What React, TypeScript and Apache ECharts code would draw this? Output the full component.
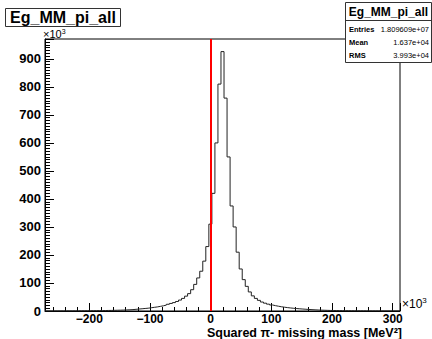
import React, { useEffect, useRef } from "react";
import * as echarts from "echarts";

// ---- data (x in units of 10^3 MeV^2, counts in units of 10^3) ----
const TITLE = "Eg_MM_pi_all";
const BIN_START = -273;
const BIN_WIDTH = 5;
const COUNTS = [
  0.25, 0.3, 0.3, 0.35, 0.4, 0.4, 0.45, 0.5, 0.55, 0.6, 0.7, 0.75, 0.8, 0.9, 1.0,
  1.1, 1.2, 1.35, 1.5, 1.7, 1.9, 2.1, 2.4, 2.7, 3.0, 3.4, 3.9, 4.4,
  5, 6, 7, 8, 9, 10, 11.5, 13, 14.5, 16.5, 18.5, 21, 24,
  27, 30, 34, 39, 45, 53, 62, 76, 95, 118, 142, 178, 230, 310, 420, 600, 810,
  926,
  760, 550, 375, 300, 210, 150, 112, 88, 68, 54, 45, 38, 32, 28, 24.5, 21.5,
  19, 17, 15, 13.5, 12, 10.8, 9.7, 8.7, 7.8, 7, 6.2, 5.5, 4.8, 4.2, 3.6, 3.1, 2.7, 2.3, 2.0, 1.8,
  1.6, 1.4, 1.25, 1.1, 1.0, 0.9, 0.8, 0.7, 0.65, 0.6, 0.55, 0.5, 0.45, 0.4, 0.4, 0.35, 0.3, 0.3, 0.25, 0.25, 0.2, 0.2,
];
const X_MIN = -273;
const X_MAX = 312;
const Y_MAX = 971;
const X_TICKS = [-200, -100, 0, 100, 200, 300];
const Y_TICKS = [0, 100, 200, 300, 400, 500, 600, 700, 800, 900];
const CUT_VALUES = [0];
const STATS_LABELS = ["Entries", "Mean", "RMS"];
const STATS_VALUES = ["1.809609e+07", "1.637e+04", "3.993e+04"];
const X_TITLE = "Squared \u03c0- missing mass [MeV\u00b2]";

const FONT = "'Liberation Sans', Arial, Helvetica, sans-serif";

export default function App() {
  const ref = useRef<HTMLDivElement>(null);

  useEffect(() => {
    if (!ref.current) return;
    const chart = echarts.init(ref.current, undefined, { renderer: "svg" });

    const histData: number[][] = COUNTS.map((v, i) => [BIN_START + i * BIN_WIDTH, v]);
    histData.push([BIN_START + COUNTS.length * BIN_WIDTH, COUNTS[COUNTS.length - 1]]);

    const statsRowsY = [29, 42, 55];

    const option: any = {
      animation: false,
      backgroundColor: "#ffffff",
      grid: {
        left: 45,
        right: 32,
        top: 39,
        bottom: 28,
        show: true,
        borderColor: "#000",
        borderWidth: 1,
        backgroundColor: "transparent",
      },
      xAxis: [
        {
          type: "value",
          min: X_MIN,
          max: X_MAX,
          splitNumber: 6,
          position: "bottom",
          axisLine: { show: true, onZero: false, lineStyle: { color: "#000", width: 1 } },
          axisTick: { show: true, inside: true, length: 8, lineStyle: { color: "#000" } },
          axisLabel: {
            show: true,
            margin: 2,
            color: "#000",
            fontSize: 12,
            fontWeight: "bold",
            fontFamily: FONT,
            formatter: (v: number) =>
              X_TICKS.includes(Math.round(v)) && Math.abs(v - Math.round(v)) < 1e-6
                ? String(Math.round(v)).replace("-", "\u2212")
                : "",
          },
          splitLine: { show: false },
        },
        {
          type: "value",
          min: X_MIN,
          max: X_MAX,
          splitNumber: 29,
          position: "bottom",
          axisLine: { show: false, onZero: false },
          axisTick: { show: true, inside: true, length: 4, lineStyle: { color: "#000" } },
          axisLabel: { show: false },
          splitLine: { show: false },
        },
      ],
      yAxis: [
        {
          type: "value",
          min: 0,
          max: Y_MAX,
          interval: 100,
          position: "left",
          axisLine: { show: true, onZero: false, lineStyle: { color: "#000", width: 1 } },
          axisTick: { show: true, inside: true, length: 9, lineStyle: { color: "#000" } },
          axisLabel: {
            show: true,
            margin: 4,
            color: "#000",
            fontSize: 13,
            fontWeight: "bold",
            fontFamily: FONT,
            formatter: (v: number) => (Y_TICKS.includes(v) ? String(v) : ""),
          },
          splitLine: { show: false },
        },
        {
          type: "value",
          min: 0,
          max: Y_MAX,
          interval: 10,
          position: "left",
          axisLine: { show: false, onZero: false },
          axisTick: { show: true, inside: true, length: 5, lineStyle: { color: "#000" } },
          axisLabel: { show: false },
          splitLine: { show: false },
        },
      ],
      series: [
        {
          type: "line",
          step: "end",
          xAxisIndex: 0,
          yAxisIndex: 0,
          data: histData,
          symbol: "none",
          showSymbol: false,
          lineStyle: { color: "#222", width: 1 },
          markLine: {
            silent: true,
            symbol: ["none", "none"],
            label: { show: false },
            lineStyle: { color: "#ff0000", width: 2, type: "solid" },
            data: CUT_VALUES.map((x) => ({ xAxis: x })),
          },
        },
      ],
      graphic: [
        // title box
        {
          type: "rect",
          z: 100,
          shape: { x: 5.5, y: 8.5, width: 115, height: 18 },
          style: { fill: "#fff", stroke: "#333", lineWidth: 1 },
        },
        {
          type: "text",
          z: 101,
          x: 63,
          y: 17.5,
          style: {
            text: TITLE,
            fill: "#000",
            font: `bold 16px ${FONT}`,
            textAlign: "center",
            textVerticalAlign: "middle",
          },
        },
        // y exponent
        {
          type: "text",
          z: 101,
          x: 43,
          y: 34,
          style: {
            text: "\u00d710{s|3}",
            fill: "#000",
            font: `11px ${FONT}`,
            textVerticalAlign: "middle",
            rich: { s: { fontSize: 7, fontFamily: FONT, padding: [0, 0, 6, 0] } },
          },
        },
        // x exponent
        {
          type: "text",
          z: 101,
          x: 402,
          y: 304,
          style: {
            text: "\u00d710{s|3}",
            fill: "#000",
            font: `12px ${FONT}`,
            textVerticalAlign: "middle",
            rich: { s: { fontSize: 8, fontFamily: FONT, padding: [0, 0, 7, 0] } },
          },
        },
        // x axis title
        {
          type: "text",
          z: 101,
          x: 402,
          y: 333,
          style: {
            text: X_TITLE,
            fill: "#000",
            font: `bold 12.5px ${FONT}`,
            textAlign: "right",
            textVerticalAlign: "middle",
          },
        },
        // stats box
        {
          type: "rect",
          z: 100,
          shape: { x: 345.5, y: 2.5, width: 86, height: 60 },
          style: { fill: "#fff", stroke: "#333", lineWidth: 1 },
        },
        {
          type: "line",
          z: 101,
          shape: { x1: 345.5, y1: 20.5, x2: 431.5, y2: 20.5 },
          style: { stroke: "#333", lineWidth: 1 },
        },
        {
          type: "text",
          z: 101,
          x: 388.5,
          y: 11.5,
          style: {
            text: TITLE,
            fill: "#000",
            font: `bold 12px ${FONT}`,
            textAlign: "center",
            textVerticalAlign: "middle",
          },
        },
        ...STATS_LABELS.map((lab, i) => ({
          type: "text",
          z: 101,
          x: 349,
          y: statsRowsY[i],
          style: {
            text: lab,
            fill: "#000",
            font: `bold 7.5px ${FONT}`,
            textAlign: "left",
            textVerticalAlign: "middle",
          },
        })),
        ...STATS_VALUES.map((val, i) => ({
          type: "text",
          z: 101,
          x: 429,
          y: statsRowsY[i],
          style: {
            text: val,
            fill: "#000",
            font: `7.5px ${FONT}`,
            textAlign: "right",
            textVerticalAlign: "middle",
          },
        })),
      ],
    };

    chart.setOption(option);
    return () => chart.dispose();
  }, []);

  return (
    <div
      ref={ref}
      style={{ position: "absolute", left: 0, top: 0, width: 432, height: 339 }}
    />
  );
}
